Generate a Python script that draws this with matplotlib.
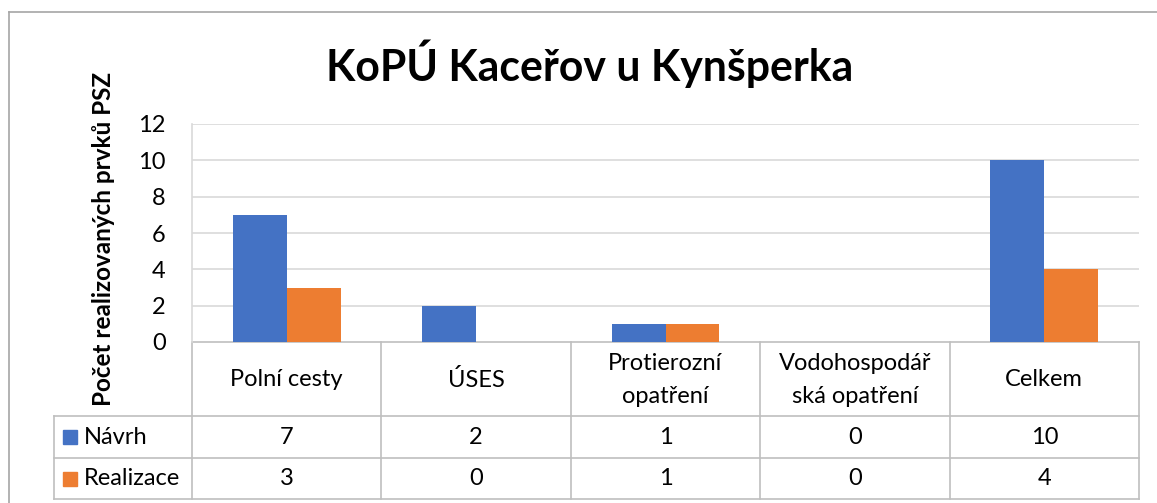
import matplotlib
matplotlib.use('Agg')
import matplotlib.pyplot as plt
import numpy as np

plt.rcParams['font.family'] = ['Lato', 'Open Sans', 'DejaVu Sans']

# data
categories = ['Polní cesty', 'ÚSES', 'Protierozní\nopatření',
              'Vodohospodář\nská opatření', 'Celkem']
series_names = ['Návrh', 'Realizace']
navrh = [7, 2, 1, 0, 10]
realizace = [3, 0, 1, 0, 4]
yticks = [0, 2, 4, 6, 8, 10, 12]

title = 'KoPÚ Kaceřov u Kynšperka'
ylabel = 'Počet realizovaných prvků PSZ'

BLUE = '#4472C4'
ORANGE = '#ED7D31'
GRID = '#D9D9D9'
TLINE = '#BFBFBF'
FS = 17

W, H = 1157, 503
fig = plt.figure(figsize=(W / 100, H / 100), dpi=100)

# layout in pixels (left, top, right, bottom of plot area)
px_l, px_t, px_r, px_b = 192, 124, 1139, 342
leg_l = 54
row_y = [342, 416, 458, 499]


def fx(x):
    return x / W


def fy(y):
    return 1 - y / H


# overlay axes in pixel coords for frame + table
ov = fig.add_axes([0, 0, 1, 1])
ov.set_xlim(0, W)
ov.set_ylim(H, 0)
ov.axis('off')

# chart frame (cut off at right / bottom)
ov.plot([9, 9], [12, H + 5], color='#A6A6A6', lw=1.2)
ov.plot([9, W + 5], [12, 12], color='#A6A6A6', lw=1.2)

# bar axes
ax = fig.add_axes([fx(px_l), fy(px_b), fx(px_r - px_l), (px_b - px_t) / H])
x = np.arange(len(categories))
bw = 0.285
ax.bar(x - bw / 2, navrh, bw, color=BLUE, zorder=3)
ax.bar(x + bw / 2, realizace, bw, color=ORANGE, zorder=3)
ax.set_xlim(-0.5, len(categories) - 0.5)
ax.set_ylim(0, 12)
ax.set_yticks(yticks)
ax.set_yticklabels([str(t) for t in yticks], fontsize=FS)
ax.tick_params(axis='y', length=0, pad=19)
ax.set_xticks([])
for t in yticks[1:]:
    ax.axhline(t, color=GRID, lw=1.2, zorder=1)
for s in ['top', 'right', 'bottom']:
    ax.spines[s].set_visible(False)
ax.spines['left'].set_color(GRID)
ax.spines['left'].set_linewidth(1.2)
ax.patch.set_alpha(0)

fig.text(fx(104), fy(239), ylabel, fontsize=17.5, fontweight='bold',
         rotation=90, ha='center', va='center')
fig.text(fx(590), fy(64), title, fontsize=30.8, fontweight='bold',
         ha='center', va='center')

# data table
col_w = (px_r - px_l) / len(categories)
edges = [px_l + i * col_w for i in range(len(categories) + 1)]

ov.plot([px_l, px_r], [row_y[0], row_y[0]], color=TLINE, lw=1.2)
for yy in row_y[1:]:
    ov.plot([leg_l, px_r], [yy, yy], color=TLINE, lw=1.2)
for i, ex in enumerate(edges):
    ov.plot([ex, ex], [row_y[0], row_y[-1]], color=TLINE, lw=1.2)
ov.plot([leg_l, leg_l], [row_y[1], row_y[-1]], color=TLINE, lw=1.2)

for i, c in enumerate(categories):
    cx = (edges[i] + edges[i + 1]) / 2
    ov.text(cx, (row_y[0] + row_y[1]) / 2 + 1, c, fontsize=FS,
            ha='center', va='center', linespacing=1.75)
    ov.text(cx, (row_y[1] + row_y[2]) / 2, str(navrh[i]), fontsize=FS,
            ha='center', va='center')
    ov.text(cx, (row_y[2] + row_y[3]) / 2, str(realizace[i]), fontsize=FS,
            ha='center', va='center')

for j, (name, col) in enumerate(zip(series_names, [BLUE, ORANGE])):
    cy = (row_y[j + 1] + row_y[j + 2]) / 2
    ov.add_patch(plt.Rectangle((63, cy - 7), 14, 14, color=col))
    ov.text(84, cy, name, fontsize=FS, ha='left', va='center')

fig.savefig('out.png', dpi=100)
